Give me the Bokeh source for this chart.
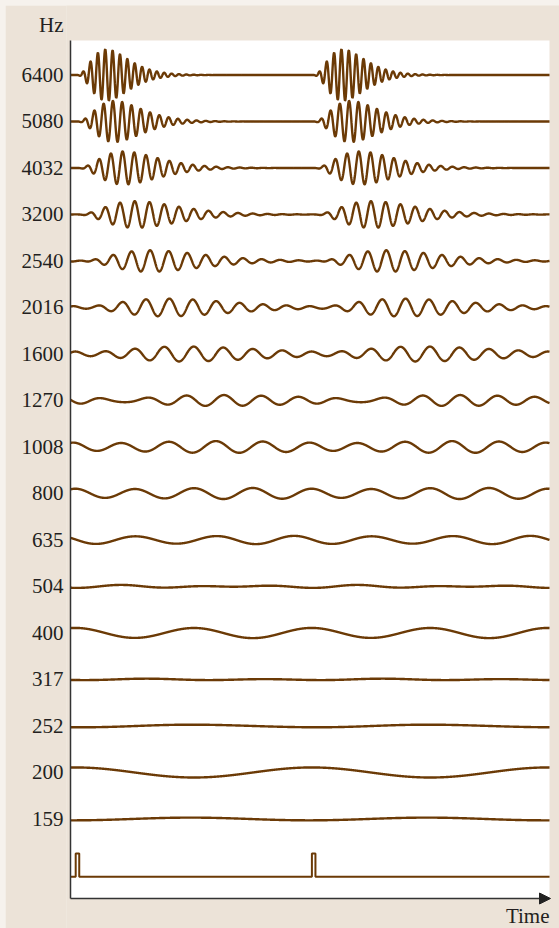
import numpy as np
from bokeh.plotting import figure
from bokeh.models import (Range1d, LinearAxis, FixedTicker, Arrow, NormalHead,
                          Label, Spacer, ColumnDataSource)
from bokeh.layouts import column, row
from bokeh.embed import file_html
from bokeh.resources import INLINE

# Filterbank channels (centre frequency, Hz), listed top to bottom
center_freqs = [6400, 5080, 4032, 3200, 2540, 2016, 1600, 1270, 1008,
                800, 635, 504, 400, 317, 252, 200, 159]
channel_labels = [str(f) for f in center_freqs]
unit_label = "Hz"
time_label = "Time"

# Click train input: period and the clicks that fall inside the window (ms)
click_period_ms = 5.0
click_times_ms = [0.0, 5.0]
click_width_ms = 0.075
click_height = 0.5

WAVE = "#6b3a06"
INK = "#231f20"
AXIS = "#333333"
BEIGE = "#ece3d8"

# time window of the traces (ms) and the panel's vertical extent (rows)
t_start, t_end = -0.11, 10.03
row_top, row_bottom = 0.742, -17.71
click_row = -17.24

dt = 0.004
t = np.arange(t_start, t_end + dt / 2, dt)


def gammatone_ir(tau, fc_hz):
    """4th-order gammatone impulse response, unit gain at centre frequency."""
    fk = fc_hz / 1000.0
    erb = 24.7 * (4.37 * fk + 1.0) / 1000.0      # kHz
    a = 2 * np.pi * 1.019 * erb                  # 1/ms
    out = np.zeros_like(tau)
    m = tau >= 0
    tt = tau[m]
    out[m] = (a ** 4 / 3.0) * tt ** 3 * np.exp(-a * tt) * np.cos(2 * np.pi * fk * tt)
    return out


# periodic click train: earlier clicks are included so each channel is in steady state
all_clicks = np.arange(-80, 3) * click_period_ms
all_clicks = all_clicks[all_clicks <= t_end]

display_gain = 0.27   # rows per unit of filter output

p = figure(width=554, height=923, output_backend="svg", toolbar_location=None,
           x_range=Range1d(-0.1947, 10.2413), y_range=Range1d(-18.355, 1.4946),
           x_axis_location=None, y_axis_location=None,
           min_border_left=61, min_border_right=0, min_border_top=0,
           min_border_bottom=0)
p.background_fill_color = BEIGE
p.border_fill_color = BEIGE
p.outline_line_color = None
p.xgrid.visible = False
p.ygrid.visible = False

# white drawing panel
p.quad(left=[t_start], right=[t_end], bottom=[row_bottom], top=[row_top],
       fill_color="white", line_color=None)

for i, fc in enumerate(center_freqs):
    resp = np.zeros_like(t)
    for c in all_clicks:
        resp += gammatone_ir(t - c, fc)
    src = ColumnDataSource(dict(x=t, y=-i + display_gain * resp))
    p.line("x", "y", source=src, line_color=WAVE, line_width=2.4)

# click train trace
cx = [t_start]
cy = [click_row]
for c in click_times_ms:
    cx += [c, c, c + click_width_ms, c + click_width_ms]
    cy += [click_row, click_row + click_height, click_row + click_height, click_row]
cx.append(t_end)
cy.append(click_row)
p.line(cx, cy, line_color=WAVE, line_width=2)

# vertical axis line
p.segment(x0=[t_start], y0=[row_bottom], x1=[t_start], y1=[row_top],
          line_color=AXIS, line_width=1.5)

# time axis with arrow
p.add_layout(Arrow(end=NormalHead(size=11, fill_color="#222222", line_color="#222222"),
                   x_start=t_start, y_start=row_bottom, x_end=10.051, y_end=row_bottom,
                   line_color=AXIS, line_width=1.5))

# channel labels (and the unit above them)
ticks = [-i for i in range(len(center_freqs))] + [1.065]
overrides = {-i: lab for i, lab in enumerate(channel_labels)}
overrides[1.065] = unit_label
yaxis = LinearAxis(ticker=FixedTicker(ticks=ticks),
                   major_label_overrides=overrides,
                   axis_line_color=None,
                   major_tick_in=0, major_tick_out=0, minor_tick_in=0, minor_tick_out=0,
                   major_label_standoff=3,
                   major_label_text_font="Liberation Serif",
                   major_label_text_font_size="21px",
                   major_label_text_color=INK)
p.add_layout(yaxis, "left")

p.add_layout(Label(x=t_end, y=-18.088, text=time_label, text_align="right",
                   text_baseline="middle", text_font="Liberation Serif",
                   text_font_size="21px", text_color=INK))

layout = column(Spacer(height=5), row(Spacer(width=5), p),
                styles={"background-color": "#f6f2ed"})

with open("out.html", "w") as fh:
    fh.write(file_html(layout, INLINE))
